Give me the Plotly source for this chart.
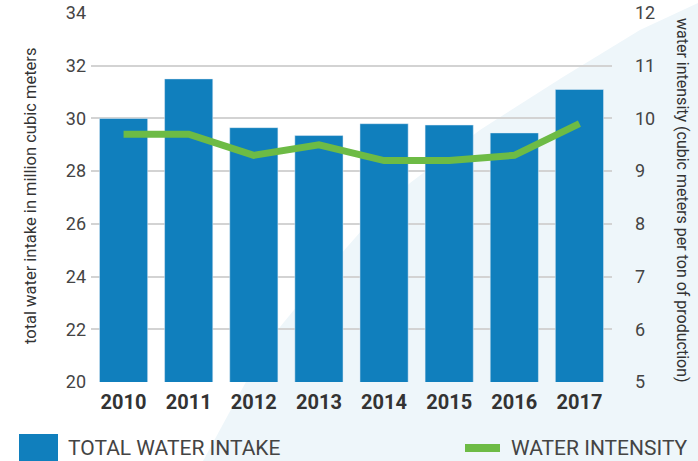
import plotly.graph_objects as go

years = ["2010", "2011", "2012", "2013", "2014", "2015", "2016", "2017"]
water_intake = [30.0, 31.5, 29.65, 29.35, 29.8, 29.75, 29.45, 31.1]
water_intensity = [9.7, 9.7, 9.3, 9.5, 9.2, 9.2, 9.3, 9.9]
left_ticks = [20, 22, 24, 26, 28, 30, 32, 34]
right_ticks = [5, 6, 7, 8, 9, 10, 11, 12]

BLUE = "#107fbd"
GREEN = "#6dbb45"
FONT = "Roboto, sans-serif"

W, H = 698, 461
L, R, T, B = 91, 612, 13, 382


def px(x):
    return (x - L) / (R - L)


def py(y):
    return (B - y) / (B - T)


fig = go.Figure()
fig.add_trace(go.Bar(x=years, y=water_intake, marker_color=BLUE, name="TOTAL WATER INTAKE",
                     showlegend=False, yaxis="y"))
fig.add_trace(go.Scatter(x=years, y=water_intensity, mode="lines", name="WATER INTENSITY",
                         line=dict(color=GREEN, width=7), showlegend=False, yaxis="y2"))

# decorative swoosh background
pts = [(203, 461), (247, 380), (280, 327), (320, 278), (362, 230), (410, 183),
       (480, 130), (563, 77), (640, 30), (698, 3), (698, 461)]
path = "M " + " L ".join(f"{px(x):.4f},{py(y):.4f}" for x, y in pts) + " Z"
shapes = [dict(type="path", path=path, xref="paper", yref="paper", fillcolor="#eef6fa",
               line=dict(width=0), layer="below")]

# manual legend
shapes.append(dict(type="rect", xref="paper", yref="paper", x0=px(19), x1=px(58), y0=py(462), y1=py(434),
                   fillcolor=BLUE, line=dict(width=0)))
shapes.append(dict(type="line", xref="paper", yref="paper", x0=px(465), x1=px(500), y0=py(448), y1=py(448),
                   line=dict(color=GREEN, width=8)))

annotations = [
    dict(text="TOTAL WATER INTAKE", xref="paper", yref="paper", x=px(66), y=py(448), xanchor="left",
         yanchor="middle", showarrow=False, font=dict(family=FONT, size=21, color="#444")),
    dict(text="WATER INTENSITY", xref="paper", yref="paper", x=px(509), y=py(448), xanchor="left",
         yanchor="middle", showarrow=False, font=dict(family=FONT, size=21, color="#444")),
    dict(text="total water intake in million cubic meters", xref="paper", yref="paper",
         x=px(30), y=py(196), textangle=-90, showarrow=False, xanchor="center", yanchor="middle",
         font=dict(family=FONT, size=16.5, color="#333")),
    dict(text="water intensity (cubic meters per ton of production)", xref="paper", yref="paper",
         x=px(683), y=py(200), textangle=90, showarrow=False, xanchor="center", yanchor="middle",
         font=dict(family=FONT, size=16, color="#333")),
]

fig.update_layout(
    width=W, height=H,
    margin=dict(l=L, r=W - R, t=T, b=H - B, autoexpand=False),
    paper_bgcolor="white", plot_bgcolor="rgba(0,0,0,0)",
    bargap=0.26,
    font=dict(family=FONT, color="#444"),
    xaxis=dict(showgrid=False, showline=False, ticks="", automargin=False, ticklabelstandoff=6,
               tickfont=dict(family=FONT, size=20, color="#333", weight="bold")),
    yaxis=dict(range=[20, 34], tickvals=left_ticks, showgrid=True, gridcolor="#d3d3d3", gridwidth=1.5,
               zeroline=False, showline=False, ticks="", automargin=False, ticklabelstandoff=4,
               tickfont=dict(size=18, color="#444")),
    yaxis2=dict(range=[5, 12], tickvals=right_ticks, overlaying="y", side="right", showgrid=False,
                zeroline=False, showline=False, ticks="", automargin=False, ticklabelstandoff=22,
                tickfont=dict(size=18, color="#444")),
    shapes=shapes,
    annotations=annotations,
)

fig.write_html("out.html", config={"displayModeBar": False},
               post_script="document.body.style.margin='0';")
